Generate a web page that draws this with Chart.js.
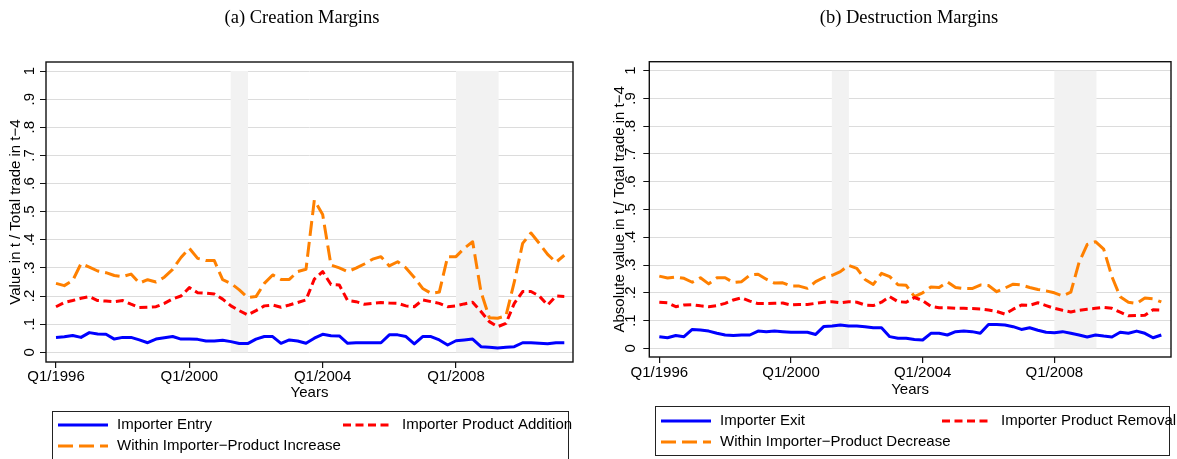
<!DOCTYPE html>
<html>
<head>
<meta charset="utf-8">
<script src="https://cdn.jsdelivr.net/npm/chart.js@4.4.1/dist/chart.umd.min.js"></script>
<style>
  html, body { margin: 0; padding: 0; background: #ffffff; }
  #wrap { position: relative; width: 1177px; height: 459px; overflow: hidden; background: #ffffff; }
  #wrap canvas { position: absolute; top: 0; }
</style>
</head>
<body>
<div id="wrap">
  <canvas id="creation" width="590" height="459" style="left:0px"></canvas>
  <canvas id="destruction" width="587" height="459" style="left:590px"></canvas>
</div>
<script>
// ---- Quarters Q1/1996 .. Q2/2011 ----
const quarters = [];
for (let yr = 1996; yr <= 2011; yr++) {
  for (let q = 1; q <= 4; q++) {
    if (yr === 2011 && q > 2) break;
    quarters.push('Q' + q + '/' + yr);
  }
}
const quarterToYear = (label) => {
  const [q, yr] = label.slice(1).split('/').map(Number);
  return yr + (q - 1) / 4;
};

// ---- Axis ticks ----
const xTickLabels = ['Q1/1996', 'Q1/2000', 'Q1/2004', 'Q1/2008'];
const yTickValues = [0, 0.1, 0.2, 0.3, 0.4, 0.5, 0.6, 0.7, 0.8, 0.9, 1];
const yTickLabels = ['0', '.1', '.2', '.3', '.4', '.5', '.6', '.7', '.8', '.9', '1'];

// ---- Recession periods (shaded), in years ----
const recessions = [[2001.24, 2001.76], [2008.0, 2009.28]];

// ---- (a) Creation margins ----
const importerEntry = [
  0.053, 0.055, 0.060, 0.053, 0.070, 0.065, 0.064, 0.047, 0.053, 0.053,
  0.044, 0.034, 0.047, 0.052, 0.056, 0.047, 0.047, 0.046, 0.040, 0.040,
  0.043, 0.038, 0.031, 0.031, 0.047, 0.056, 0.056, 0.032, 0.044, 0.040,
  0.032, 0.050, 0.064, 0.059, 0.058, 0.032, 0.034, 0.034, 0.034, 0.034,
  0.062, 0.062, 0.056, 0.030, 0.056, 0.056, 0.044, 0.026, 0.041, 0.044,
  0.047, 0.020, 0.018, 0.015, 0.018, 0.020, 0.034, 0.034, 0.032, 0.030,
  0.034, 0.034
];
const productAddition = [
  0.162, 0.177, 0.184, 0.192, 0.198, 0.184, 0.182, 0.180, 0.184, 0.171,
  0.159, 0.160, 0.162, 0.174, 0.190, 0.200, 0.230, 0.212, 0.210, 0.207,
  0.189, 0.165, 0.148, 0.133, 0.148, 0.165, 0.168, 0.160, 0.168, 0.177,
  0.186, 0.260, 0.287, 0.241, 0.239, 0.184, 0.180, 0.171, 0.174, 0.177,
  0.175, 0.174, 0.165, 0.162, 0.186, 0.180, 0.174, 0.162, 0.165, 0.172,
  0.178, 0.145, 0.109, 0.091, 0.103, 0.174, 0.216, 0.216, 0.200, 0.168,
  0.200, 0.198
];
const withinIncrease = [
  0.245, 0.237, 0.255, 0.315, 0.303, 0.289, 0.283, 0.273, 0.269, 0.278,
  0.246, 0.258, 0.250, 0.267, 0.295, 0.337, 0.370, 0.334, 0.326, 0.326,
  0.258, 0.245, 0.222, 0.195, 0.198, 0.245, 0.275, 0.259, 0.259, 0.287,
  0.295, 0.541, 0.490, 0.310, 0.300, 0.287, 0.299, 0.314, 0.331, 0.340,
  0.307, 0.322, 0.300, 0.266, 0.227, 0.210, 0.214, 0.340, 0.340, 0.370,
  0.393, 0.215, 0.123, 0.121, 0.130, 0.250, 0.387, 0.424, 0.387, 0.348,
  0.320, 0.345
];

// ---- (b) Destruction margins ----
const importerExit = [
  0.042, 0.038, 0.046, 0.042, 0.068, 0.066, 0.062, 0.054, 0.048, 0.046,
  0.048, 0.048, 0.062, 0.060, 0.062, 0.060, 0.058, 0.058, 0.058, 0.050,
  0.079, 0.080, 0.084, 0.080, 0.080, 0.078, 0.074, 0.074, 0.042, 0.036,
  0.036, 0.032, 0.030, 0.054, 0.054, 0.048, 0.060, 0.062, 0.060, 0.054,
  0.086, 0.086, 0.084, 0.078, 0.068, 0.074, 0.065, 0.058, 0.056, 0.060,
  0.054, 0.048, 0.041, 0.048, 0.044, 0.041, 0.058, 0.054, 0.062, 0.054,
  0.038, 0.048
];
const productRemoval = [
  0.166, 0.164, 0.150, 0.156, 0.157, 0.153, 0.150, 0.154, 0.162, 0.174,
  0.182, 0.170, 0.161, 0.161, 0.162, 0.163, 0.156, 0.158, 0.158, 0.162,
  0.166, 0.168, 0.164, 0.168, 0.166, 0.156, 0.154, 0.166, 0.186, 0.168,
  0.166, 0.183, 0.172, 0.151, 0.146, 0.146, 0.144, 0.144, 0.143, 0.142,
  0.138, 0.133, 0.123, 0.141, 0.156, 0.155, 0.164, 0.154, 0.144, 0.137,
  0.131, 0.137, 0.141, 0.144, 0.147, 0.144, 0.130, 0.117, 0.118, 0.119,
  0.139, 0.138
];
const withinDecrease = [
  0.260, 0.253, 0.257, 0.252, 0.238, 0.254, 0.232, 0.254, 0.254, 0.237,
  0.240, 0.264, 0.267, 0.249, 0.235, 0.236, 0.224, 0.224, 0.216, 0.240,
  0.255, 0.263, 0.276, 0.299, 0.288, 0.248, 0.230, 0.270, 0.258, 0.229,
  0.227, 0.186, 0.200, 0.221, 0.219, 0.239, 0.219, 0.215, 0.215, 0.228,
  0.226, 0.204, 0.217, 0.231, 0.228, 0.219, 0.212, 0.207, 0.200, 0.189,
  0.202, 0.309, 0.374, 0.384, 0.357, 0.258, 0.186, 0.166, 0.161, 0.181,
  0.178, 0.167
];

// ---- Legend labels ----
const creationLabels = ['Importer Entry', 'Importer Product Addition', 'Within Importer\u2212Product Increase'];
const destructionLabels = ['Importer Exit', 'Importer Product Removal', 'Within Importer\u2212Product Decrease'];

// ---- Styling ----
const SANS = '"Liberation Sans", Arial, Helvetica, sans-serif';
const SERIF = '"Liberation Serif", "Times New Roman", Times, serif';
const seriesStyles = [
  { color: '#0000ff', dash: [] },
  { color: '#ff0000', dash: [8, 4.5] },
  { color: '#ff8000', dash: [15, 6] }
];

const decorPlugin = {
  id: 'panelDecor',
  beforeDatasetsDraw(chart, args, o) {
    const { ctx, scales: { x, y } } = chart;
    ctx.save();
    ctx.fillStyle = '#f2f2f2';
    const yTop = y.getPixelForValue(1), yBot = y.getPixelForValue(0);
    o.bands.forEach(([s, e]) => {
      const x0 = x.getPixelForValue(s), x1 = x.getPixelForValue(e);
      ctx.fillRect(x0, yTop, x1 - x0, yBot - yTop);
    });
    ctx.restore();
  },
  afterDraw(chart, args, o) {
    const { ctx, chartArea: a, scales: { x, y } } = chart;
    ctx.save();
    // plot frame
    ctx.strokeStyle = '#111111';
    ctx.lineWidth = 1.4;
    ctx.setLineDash([]);
    ctx.strokeRect(a.left, a.top, a.right - a.left, a.bottom - a.top);

    ctx.fillStyle = '#000000';
    ctx.font = '15px ' + SANS;
    // rotated y tick labels
    ctx.textAlign = 'center';
    ctx.textBaseline = 'middle';
    yTickValues.forEach((v, i) => {
      ctx.save();
      ctx.translate(o.yLabelX, y.getPixelForValue(v));
      ctx.rotate(-Math.PI / 2);
      ctx.fillText(yTickLabels[i], 0, 0);
      ctx.restore();
    });
    // y axis title
    ctx.save();
    ctx.translate(o.yTitleX, (a.top + a.bottom) / 2);
    ctx.rotate(-Math.PI / 2);
    ctx.fillText(o.yTitle, 0, 0);
    ctx.restore();
    // x tick labels
    xTickLabels.forEach((lab) => {
      ctx.fillText(lab, x.getPixelForValue(quarterToYear(lab)), o.xLabelY);
    });
    // x axis title
    ctx.fillText('Years', (a.left + a.right) / 2, o.xTitleY);
    // panel title
    ctx.font = '18.5px ' + SERIF;
    ctx.fillText(o.title, o.titleX, o.titleY);

    // legend
    const L = o.legend;
    ctx.strokeStyle = '#222222';
    ctx.lineWidth = 1;
    ctx.strokeRect(L.left + 0.5, L.top + 0.5, L.right - L.left, L.bottom - L.top);
    ctx.font = '15px ' + SANS;
    ctx.textAlign = 'left';
    const slots = [
      { sx: L.left + 6, tx: L.left + 65, y: L.row1 },
      { sx: L.left + L.col2, tx: L.left + L.col2 + 59, y: L.row1 },
      { sx: L.left + 6, tx: L.left + 65, y: L.row2 }
    ];
    slots.forEach((s, i) => {
      ctx.save();
      ctx.strokeStyle = seriesStyles[i].color;
      ctx.lineWidth = 3;
      ctx.setLineDash(seriesStyles[i].dash);
      ctx.beginPath();
      ctx.moveTo(s.sx, s.y);
      ctx.lineTo(s.sx + 50, s.y);
      ctx.stroke();
      ctx.restore();
      ctx.fillText(o.labels[i], s.tx, s.y);
    });
    ctx.restore();
  }
};

function buildPanel(canvasId, values, labels, geo) {
  const canvas = document.getElementById(canvasId);
  const W = canvas.width, H = canvas.height;
  const datasets = values.map((arr, i) => ({
    label: labels[i],
    data: arr.map((v, k) => ({ x: quarterToYear(quarters[k]), y: v })),
    borderColor: seriesStyles[i].color,
    borderDash: seriesStyles[i].dash,
    borderWidth: 3,
    borderJoinStyle: 'round',
    pointRadius: 0,
    tension: 0,
    fill: false
  }));
  return new Chart(canvas, {
    type: 'line',
    data: { datasets },
    options: {
      responsive: false,
      animation: false,
      events: [],
      layout: {
        padding: { left: geo.area.left, top: geo.area.top, right: W - geo.area.right, bottom: H - geo.area.bottom }
      },
      plugins: {
        legend: { display: false },
        tooltip: { enabled: false },
        panelDecor: {
          bands: recessions,
          title: geo.title, titleX: geo.titleX, titleY: geo.titleY,
          yTitle: geo.yTitle, yTitleX: geo.yTitleX, yLabelX: geo.yLabelX,
          xLabelY: geo.xLabelY, xTitleY: geo.xTitleY,
          labels: labels, legend: geo.legend
        }
      },
      scales: {
        x: {
          type: 'linear', bounds: 'data',
          min: geo.xMin, max: geo.xMax,
          afterBuildTicks: (s) => { s.ticks = xTickLabels.map((l) => ({ value: quarterToYear(l) })); },
          afterFit: (s) => { s.height = 0; },
          ticks: { display: false },
          border: { display: false },
          grid: { drawOnChartArea: false, drawTicks: true, tickLength: 6, tickColor: '#111111', lineWidth: 1.2 }
        },
        y: {
          type: 'linear', bounds: 'data',
          min: geo.yMin, max: geo.yMax,
          afterBuildTicks: (s) => { s.ticks = yTickValues.map((v) => ({ value: v })); },
          afterFit: (s) => { s.width = 0; },
          ticks: { display: false },
          border: { display: false },
          grid: { color: '#dcdcdc', lineWidth: 1, drawTicks: true, tickLength: 6, tickColor: '#111111' }
        }
      }
    },
    plugins: [decorPlugin]
  });
}

buildPanel('creation', [importerEntry, productAddition, withinIncrease], creationLabels, {
  area: { left: 46, top: 62, right: 573, bottom: 362 },
  xMin: 1995.70, xMax: 2011.511, yMin: -0.0345, yMax: 1.032,
  title: '(a) Creation Margins', titleX: 302, titleY: 18,
  yTitle: 'Value in t / Total trade in t\u22124', yTitleX: 15.5, yLabelX: 29.5,
  xLabelY: 377, xTitleY: 393,
  legend: { left: 52, right: 568, top: 411, bottom: 462, row1: 425, row2: 446, col2: 291 }
});

buildPanel('destruction', [importerExit, productRemoval, withinDecrease], destructionLabels, {
  area: { left: 59.3, top: 61.7, right: 581, bottom: 357 },
  xMin: 1995.696, xMax: 2011.544, yMin: -0.0313, yMax: 1.0324,
  title: '(b) Destruction Margins', titleX: 319, titleY: 18,
  yTitle: 'Absolute value in t / Total trade in t\u22124', yTitleX: 30, yLabelX: 41,
  xLabelY: 373, xTitleY: 389.5,
  legend: { left: 65, right: 579, top: 406, bottom: 455, row1: 421, row2: 442, col2: 287 }
});
</script>
</body>
</html>
